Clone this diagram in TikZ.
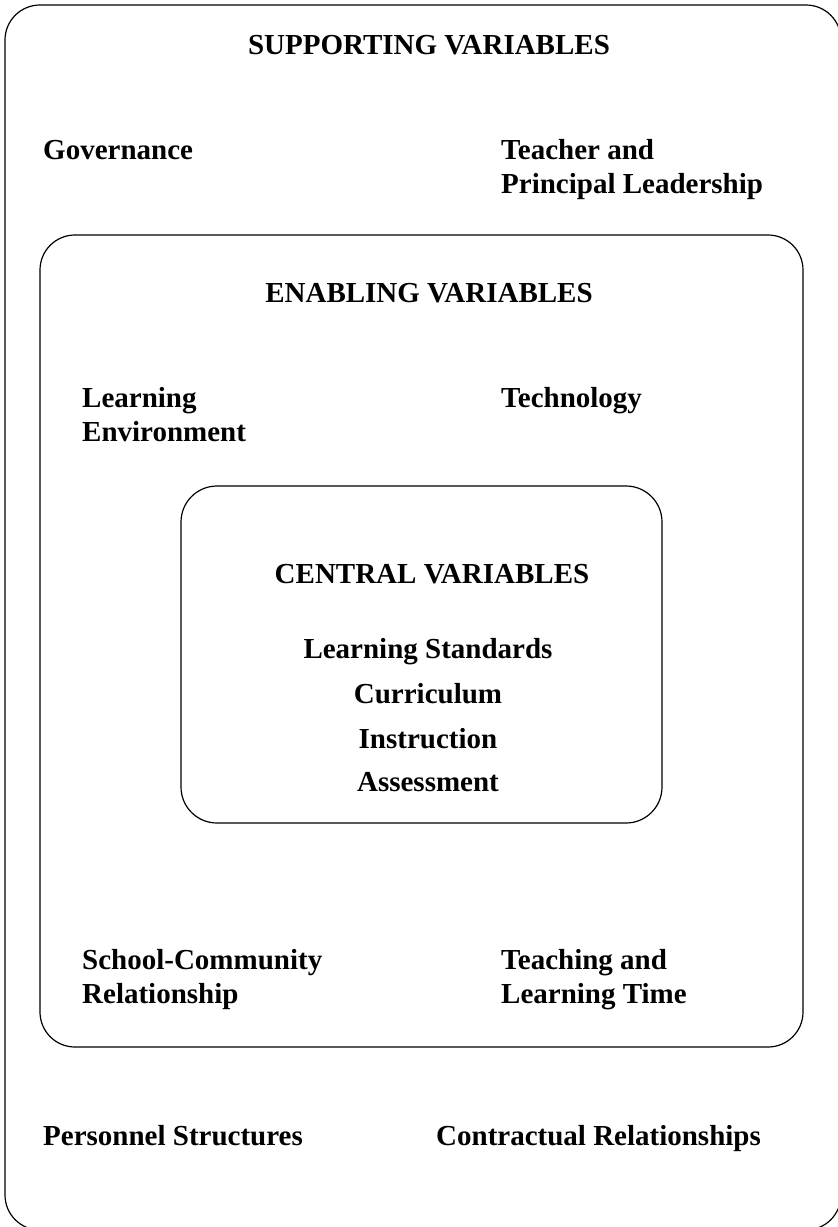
\documentclass[tikz,border=0pt]{standalone}
\usepackage{fontspec}
\setmainfont{Liberation Serif}
\usepackage{tikz}
\usetikzlibrary{positioning}

\tikzset{
  varbox/.style={draw, line width=1.2pt, rounded corners=35pt, inner sep=0pt},
  vartext/.style={font=\fontsize{29}{34}\selectfont\bfseries, inner sep=0pt, align=left, anchor=base west},
  vartitle/.style={font=\fontsize{29}{34}\selectfont\bfseries, inner sep=0pt, anchor=base}
}

\begin{document}
\begin{tikzpicture}[x=1pt, y=-1pt]
\useasboundingbox (0,0) rectangle (838,1227);

\node[varbox, minimum width=836pt, minimum height=1225pt] (supporting) at (423,617.5) {};
\node[varbox, minimum width=763pt, minimum height=812pt] (enabling) at (421.5,641) {};
\node[varbox, minimum width=481pt, minimum height=337pt, rounded corners=36pt] (central) at (421.5,654.5) {};

% multi-line labels sit on the baseline of their last line
\node[vartitle] (suptitle) at (429,54) {SUPPORTING VARIABLES};
\node[vartext] (governance) at (43,159) {Governance};
\node[vartext] (leadership) at (501,193) {Teacher and\\Principal Leadership};

\node[vartitle] (enatitle) at (429,302) {ENABLING VARIABLES};
\node[vartext] (environment) at (82,441) {Learning\\Environment};
\node[vartext] (technology) at (501,407) {Technology};

\node[vartitle] (centitle) at (432,583) {CENTRAL VARIABLES};
\node[vartitle] (standards) at (428,658) {Learning Standards};
\node[vartitle] (curriculum) at (428,703) {Curriculum};
\node[vartitle] (instruction) at (428,748) {Instruction};
\node[vartitle] (assessment) at (428,791) {Assessment};

\node[vartext] (community) at (82,1003) {School-Community\\Relationship};
\node[vartext] (time) at (501,1003) {Teaching and\\Learning Time};

\node[vartext] (personnel) at (43,1145) {Personnel Structures};
\node[vartext] (contractual) at (436,1145) {Contractual Relationships};
\end{tikzpicture}
\end{document}
